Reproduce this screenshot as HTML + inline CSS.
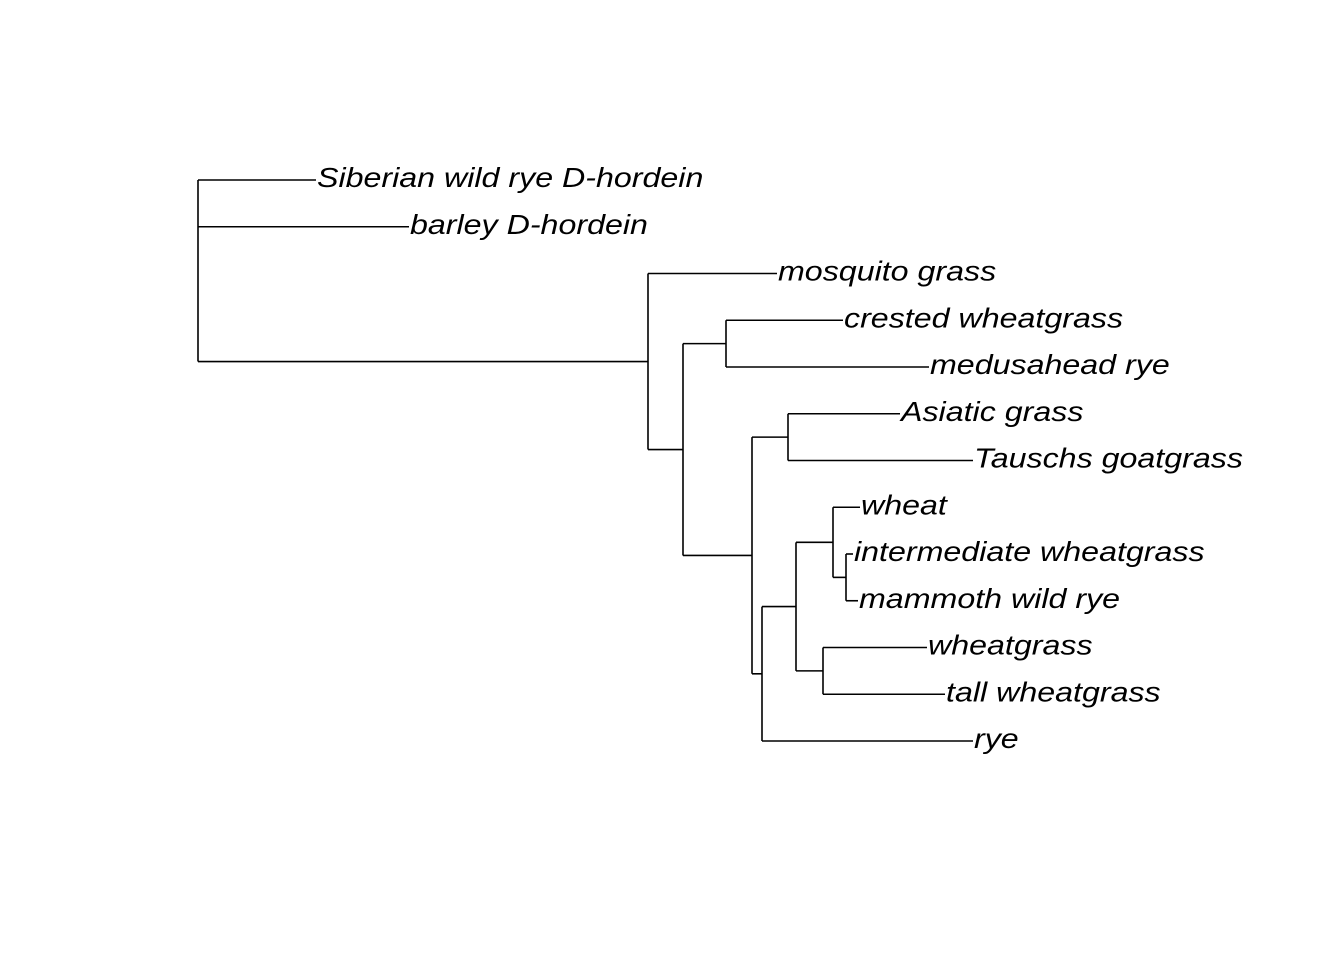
<!DOCTYPE html>
<html><head><meta charset="utf-8"><style>
html,body{margin:0;padding:0;background:#fff}
svg text{font-family:"Liberation Sans",Arial,sans-serif;font-style:italic;font-size:28px;fill:#000}
</style></head><body>
<svg id="tree" width="1344" height="960" xmlns="http://www.w3.org/2000/svg"></svg>
<script>
// Leaf labels (top to bottom) and tip depths (distance from root, arbitrary units)
const leafLabels = ["Siberian wild rye D-hordein","barley D-hordein","mosquito grass","crested wheatgrass","medusahead rye","Asiatic grass","Tauschs goatgrass","wheat","intermediate wheatgrass","mammoth wild rye","wheatgrass","tall wheatgrass","rye"];
const leafDepths = [1.18, 2.11, 5.79, 6.45, 7.31, 7.02, 7.75, 6.62, 6.55, 6.60, 7.29, 7.47, 7.75];
// Internal nodes: name, depth, children (leaf index as number, internal node as string)
const nodeNames = ["root","A","B","C","D","E","F","G","H","I","J"];
const nodeDepths = [0, 4.50, 4.85, 5.28, 5.54, 5.90, 5.64, 5.98, 6.35, 6.48, 6.25];
const nodeChildren = [[0,1,"A"],[2,"B"],["C","D"],[3,4],["E","F"],[5,6],["G",12],["H","J"],[7,"I"],[8,9],[10,11]];

const X0 = 198, XS = 100, Y0 = 180, YS = 46.75;
const xScale = d => X0 + d * XS;
const yScale = i => Y0 + i * YS;
const svg = document.getElementById('tree');
const NS = "http://www.w3.org/2000/svg";
function line(x1,y1,x2,y2,name){
  const l = document.createElementNS(NS,'line');
  l.setAttribute('x1',x1);l.setAttribute('y1',y1);l.setAttribute('x2',x2);l.setAttribute('y2',y2);
  l.setAttribute('stroke','#000');l.setAttribute('stroke-width','1.6');
  
  
  svg.appendChild(l);
}
function yOf(c){
  if (typeof c === 'number') return yScale(c);
  const k = nodeNames.indexOf(c);
  const ch = nodeChildren[k];
  return (yOf(ch[0]) + yOf(ch[ch.length-1])) / 2;
}
function xOf(c){
  return typeof c === 'number' ? xScale(leafDepths[c]) : xScale(nodeDepths[nodeNames.indexOf(c)]);
}
nodeNames.forEach((n,k)=>{
  const ch = nodeChildren[k];
  const x = xScale(nodeDepths[k]);
  line(x, yOf(ch[0]), x, yOf(ch[ch.length-1]), 'node-'+n+'-vertical');
  ch.forEach(c=>{
    line(x, yOf(c), xOf(c), yOf(c), 'branch-'+(typeof c==='number'?'leaf-'+c:'node-'+c));
  });
});
leafLabels.forEach((lab,i)=>{
  const t = document.createElementNS(NS,'text');
  const tx = xScale(leafDepths[i]) + 1, ty = yScale(i) + 7;
  t.setAttribute('transform', 'translate(' + tx + ',' + ty + ') scale(1.15,1)');
  t.textContent = lab;
  
  
  svg.appendChild(t);
});
</script>
</body></html>
